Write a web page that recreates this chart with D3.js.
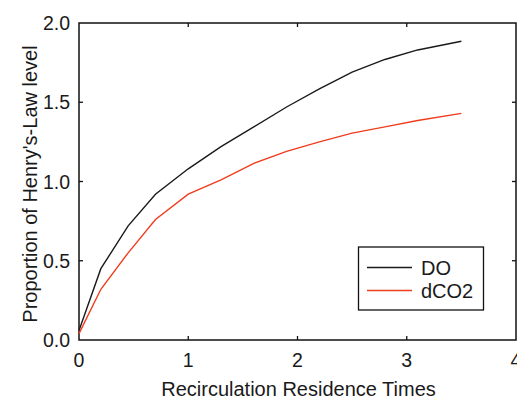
<!DOCTYPE html>
<html>
<head>
<meta charset="utf-8">
<script src="https://cdn.jsdelivr.net/npm/d3@7"></script>
<style>
    body { margin: 0; background: #fff; }
    text { font-family: "Liberation Sans", Arial, sans-serif; fill: #1a1a1a; }
</style>
</head>
<body>
<div id="chart"></div>
<script>
// values
const times = [0, 0.2, 0.45, 0.7, 1.0, 1.3, 1.6, 1.9, 2.2, 2.5, 2.8, 3.1, 3.5];
const doValues = [0.06, 0.45, 0.72, 0.92, 1.08, 1.22, 1.345, 1.47, 1.585, 1.69, 1.77, 1.83, 1.885];
const co2Values = [0.04, 0.32, 0.55, 0.76, 0.92, 1.01, 1.115, 1.19, 1.25, 1.305, 1.345, 1.385, 1.43];
const xTicks = [0, 1, 2, 3, 4];
const yTicks = [0, 0.5, 1.0, 1.5, 2.0];
const seriesNames = ["DO", "dCO2"];
const seriesColors = ["#1a1a1a", "#f03c1e"];

const width = 517, height = 402;
const margin = {top: 23, right: 1, bottom: 62, left: 79};

const svg = d3.select("#chart").append("svg")
    .attr("width", width)
    .attr("height", height);

const x = d3.scaleLinear().domain([0, 4]).range([margin.left, width - margin.right]);
const y = d3.scaleLinear().domain([0, 2]).range([height - margin.bottom, margin.top]);

// frame
svg.append("rect")
    .attr("x", x(0)).attr("y", y(2))
    .attr("width", x(4) - x(0)).attr("height", y(0) - y(2))
    .attr("fill", "none").attr("stroke", "#111").attr("stroke-width", 1.5);

// inward ticks on all four sides
const tickLen = 4;
svg.selectAll("line.xb").data(xTicks.slice(1, -1)).enter().append("line")
    .attr("x1", d => x(d)).attr("x2", d => x(d))
    .attr("y1", y(0)).attr("y2", y(0) - tickLen)
    .attr("stroke", "#111").attr("stroke-width", 1.3);
svg.selectAll("line.xt").data(xTicks.slice(1, -1)).enter().append("line")
    .attr("x1", d => x(d)).attr("x2", d => x(d))
    .attr("y1", y(2)).attr("y2", y(2) + tickLen)
    .attr("stroke", "#111").attr("stroke-width", 1.3);
svg.selectAll("line.yl").data(yTicks.slice(1, -1)).enter().append("line")
    .attr("x1", x(0)).attr("x2", x(0) + tickLen)
    .attr("y1", d => y(d)).attr("y2", d => y(d))
    .attr("stroke", "#111").attr("stroke-width", 1.3);
svg.selectAll("line.yr").data(yTicks.slice(1, -1)).enter().append("line")
    .attr("x1", x(4)).attr("x2", x(4) - tickLen)
    .attr("y1", d => y(d)).attr("y2", d => y(d))
    .attr("stroke", "#111").attr("stroke-width", 1.3);

// tick labels
svg.selectAll("text.xl").data(xTicks).enter().append("text")
    .attr("x", d => x(d)).attr("y", y(0) + 27)
    .attr("text-anchor", "middle")
    .style("font-size", "19.5px")
    .text(d => d);
svg.selectAll("text.yl").data(yTicks).enter().append("text")
    .attr("x", x(0) - 9).attr("y", d => y(d) + 7)
    .attr("text-anchor", "end")
    .style("font-size", "19.5px")
    .text(d => d.toFixed(1));

// axis titles
svg.append("text")
    .attr("x", (x(0) + x(4)) / 2 + 1).attr("y", 396)
    .attr("text-anchor", "middle")
    .style("font-size", "20px")
    .text("Recirculation Residence Times");
svg.append("text")
    .attr("transform", "translate(37,184) rotate(-90)")
    .attr("text-anchor", "middle")
    .style("font-size", "20px")
    .text("Proportion of Henry's-Law level");

// lines
const line = d3.line()
    .x(d => x(d[0]))
    .y(d => y(d[1]));

[doValues, co2Values].forEach((vals, i) => {
    svg.append("path")
        .datum(times.map((t, j) => [t, vals[j]]))
        .attr("d", line)
        .attr("fill", "none")
        .attr("stroke", seriesColors[i])
        .attr("stroke-width", 1.4);
});

// legend
const legend = svg.append("g");
legend.append("rect")
    .attr("x", 358.5).attr("y", 247)
    .attr("width", 125).attr("height", 63)
    .attr("fill", "#fff").attr("stroke", "#111").attr("stroke-width", 1.3);
seriesNames.forEach((name, i) => {
    const ly = 267.5 + i * 23;
    legend.append("line")
        .attr("x1", 367).attr("x2", 412)
        .attr("y1", ly).attr("y2", ly)
        .attr("stroke", seriesColors[i]).attr("stroke-width", 1.4);
    legend.append("text")
        .attr("x", 421).attr("y", ly + 7)
        .style("font-size", "20px")
        .text(name);
});
</script>
</body>
</html>
